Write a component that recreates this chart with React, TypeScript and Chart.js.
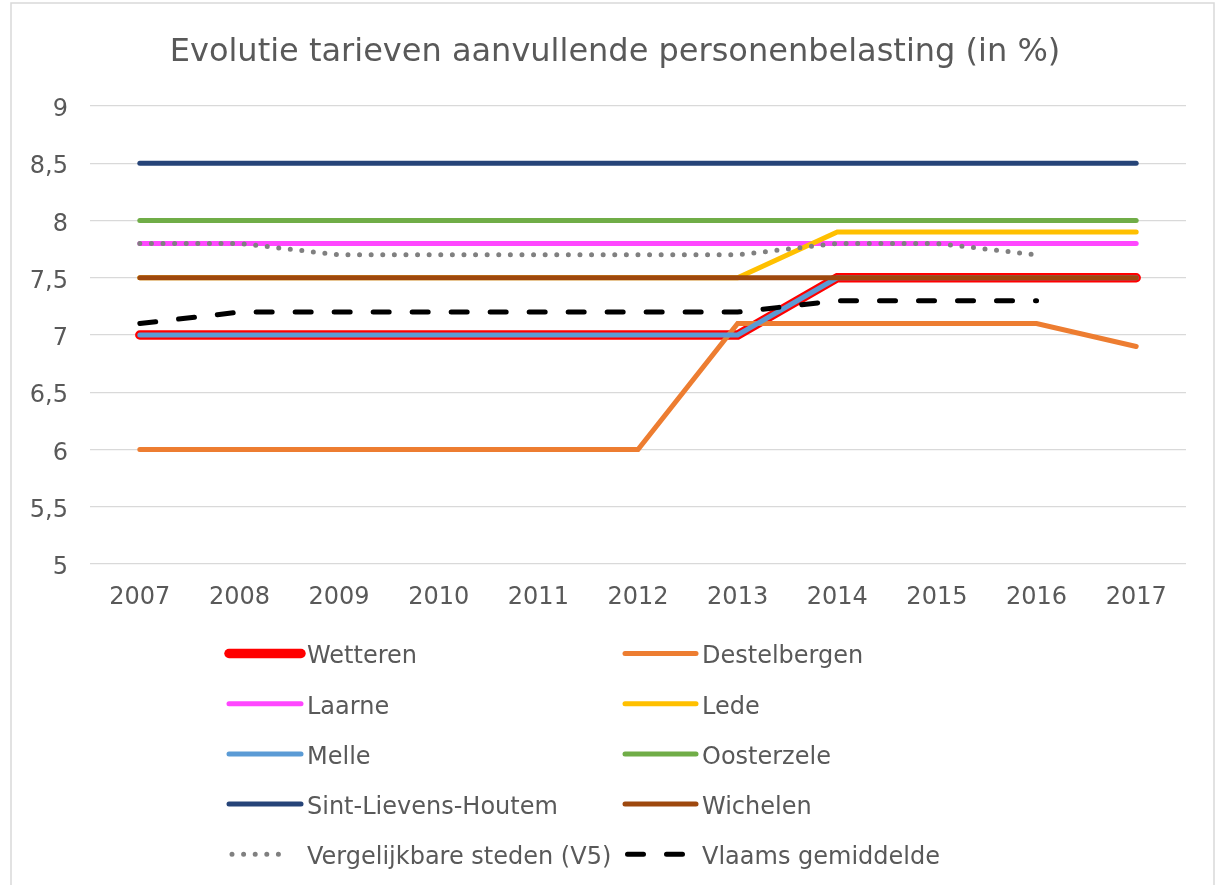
import React, { useEffect, useRef } from 'react';
import { Chart, registerables } from 'chart.js';

Chart.register(...registerables);

const years = ['2007', '2008', '2009', '2010', '2011', '2012', '2013', '2014', '2015', '2016', '2017'];

const wetteren = [7, 7, 7, 7, 7, 7, 7, 7.5, 7.5, 7.5, 7.5];
const destelbergen = [6, 6, 6, 6, 6, 6, 7.1, 7.1, 7.1, 7.1, 6.9];
const laarne = [7.8, 7.8, 7.8, 7.8, 7.8, 7.8, 7.8, 7.8, 7.8, 7.8, 7.8];
const lede = [7.5, 7.5, 7.5, 7.5, 7.5, 7.5, 7.5, 7.9, 7.9, 7.9, 7.9];
const melle = [7, 7, 7, 7, 7, 7, 7, 7.5, 7.5, 7.5, 7.5];
const oosterzele = [8, 8, 8, 8, 8, 8, 8, 8, 8, 8, 8];
const sintLievensHoutem = [8.5, 8.5, 8.5, 8.5, 8.5, 8.5, 8.5, 8.5, 8.5, 8.5, 8.5];
const wichelen = [7.5, 7.5, 7.5, 7.5, 7.5, 7.5, 7.5, 7.5, 7.5, 7.5, 7.5];
const vergelijkbareSteden = [7.8, 7.8, 7.7, 7.7, 7.7, 7.7, 7.7, 7.8, 7.8, 7.7, null];
const vlaamsGemiddelde = [7.1, 7.2, 7.2, 7.2, 7.2, 7.2, 7.2, 7.3, 7.3, 7.3, null];

const seriesNames = [
  'Wetteren', 'Destelbergen', 'Laarne', 'Lede', 'Melle', 'Oosterzele',
  'Sint-Lievens-Houtem', 'Wichelen', 'Vergelijkbare steden (V5)', 'Vlaams gemiddelde',
];
const seriesValues = [
  wetteren, destelbergen, laarne, lede, melle, oosterzele,
  sintLievensHoutem, wichelen, vergelijkbareSteden, vlaamsGemiddelde,
];
const seriesColors = [
  '#FF0000', '#ED7D31', '#FF47FF', '#FFC000', '#5B9BD5', '#70AD47',
  '#264478', '#9E480E', '#808080', '#000000',
];
const seriesWidths = [9.5, 5, 5, 5, 5, 5, 5, 5, 5, 5];
const seriesDashes: number[][] = [[], [], [], [], [], [], [], [], [0, 11.6], [16, 23]];

const yMin = 5;
const yMax = 9;
const yStep = 0.5;

const titleText = 'Evolutie tarieven aanvullende personenbelasting (in %)';
const FONT = '"DejaVu Sans", Verdana, sans-serif';
const TEXT_COLOR = '#595959';
const GRID_COLOR = '#D9D9D9';

const framePlugin = {
  id: 'frame',
  beforeDraw(chart: any) {
    const ctx = chart.ctx;
    ctx.save();
    ctx.fillStyle = '#FFFFFF';
    ctx.fillRect(0, 0, chart.width, chart.height);
    ctx.strokeStyle = GRID_COLOR;
    ctx.lineWidth = 1.5;
    ctx.strokeRect(11, 3, 1203, 900);
    ctx.fillStyle = TEXT_COLOR;
    ctx.font = `32px ${FONT}`;
    ctx.textAlign = 'center';
    ctx.textBaseline = 'alphabetic';
    ctx.fillText(titleText, 615, 61);
    ctx.restore();
  },
};

const legendPlugin = {
  id: 'twoColLegend',
  afterDraw(chart: any) {
    const ctx = chart.ctx;
    ctx.save();
    const rowStep = 50.2;
    const lineY0 = 653.5;
    const textY0 = 663.3;
    const cols = [
      { x1: 229, x2: 301, tx: 307 },
      { x1: 625, x2: 696, tx: 702 },
    ];
    chart.data.datasets.forEach((ds: any, i: number) => {
      const r = Math.floor(i / 2);
      const c = cols[i % 2];
      const ly = lineY0 + r * rowStep;
      ctx.beginPath();
      ctx.strokeStyle = ds.borderColor;
      ctx.lineWidth = ds.borderWidth;
      ctx.lineCap = 'round';
      const dash = ds.borderDash || [];
      ctx.setLineDash(dash);
      let x1 = c.x1;
      let x2 = c.x2;
      if (dash.length && dash[0] === 0) { x1 = c.x1 + 3; x2 = c.x1 + 3 + 11.6 * 5; }
      if (dash.length && dash[0] > 0) { x1 = c.x1 + 2.5; x2 = c.x1 + 60; }
      ctx.moveTo(x1, ly);
      ctx.lineTo(x2, ly);
      ctx.stroke();
      ctx.setLineDash([]);
      ctx.fillStyle = TEXT_COLOR;
      ctx.font = `24px ${FONT}`;
      ctx.textAlign = 'left';
      ctx.textBaseline = 'alphabetic';
      ctx.fillText(ds.label, c.tx, textY0 + r * rowStep);
    });
    ctx.restore();
  },
};

export default function App() {
  const canvasRef = useRef<HTMLCanvasElement | null>(null);

  useEffect(() => {
    if (!canvasRef.current) return;
    const datasets = seriesNames.map((name, i) => ({
      label: name,
      data: seriesValues[i],
      borderColor: seriesColors[i],
      backgroundColor: seriesColors[i],
      borderWidth: seriesWidths[i],
      borderDash: seriesDashes[i],
      borderCapStyle: 'round',
      borderJoinStyle: 'miter',
      pointRadius: 0,
      pointHoverRadius: 0,
      fill: false,
      tension: 0,
      spanGaps: false,
      order: seriesNames.length - i,
    }));

    const chart = new Chart(canvasRef.current, {
      type: 'line',
      data: { labels: years, datasets: datasets as any },
      options: {
        animation: false,
        responsive: false,
        devicePixelRatio: 1,
        events: [],
        layout: { padding: { top: 106, left: 0, right: 34, bottom: 271 } },
        plugins: {
          legend: { display: false },
          tooltip: { enabled: false },
          title: { display: false },
        },
        scales: {
          x: {
            type: 'category',
            offset: true,
            grid: { display: false, drawTicks: false },
            border: { display: false },
            ticks: {
              color: TEXT_COLOR,
              font: { family: FONT, size: 24 },
              padding: 19,
              maxRotation: 0,
              autoSkip: false,
            },
            afterFit: (s: any) => { s.height = 50; },
          },
          y: {
            type: 'linear',
            min: yMin,
            max: yMax,
            grid: { color: GRID_COLOR, lineWidth: 1.3, drawTicks: false },
            border: { display: false },
            ticks: {
              stepSize: yStep,
              color: TEXT_COLOR,
              font: { family: FONT, size: 24 },
              padding: 22,
              labelOffset: 4,
              callback: (v: any) => String(v).replace('.', ','),
            },
            afterFit: (s: any) => { s.width = 90; },
          },
        },
      },
      plugins: [framePlugin, legendPlugin],
    });
    return () => chart.destroy();
  }, []);

  return (
    <div style={{ position: 'fixed', left: 0, top: 0, width: 1220, height: 885, background: '#fff' }}>
      <canvas ref={canvasRef} width={1220} height={885} style={{ width: 1220, height: 885, display: 'block' }} />
    </div>
  );
}
